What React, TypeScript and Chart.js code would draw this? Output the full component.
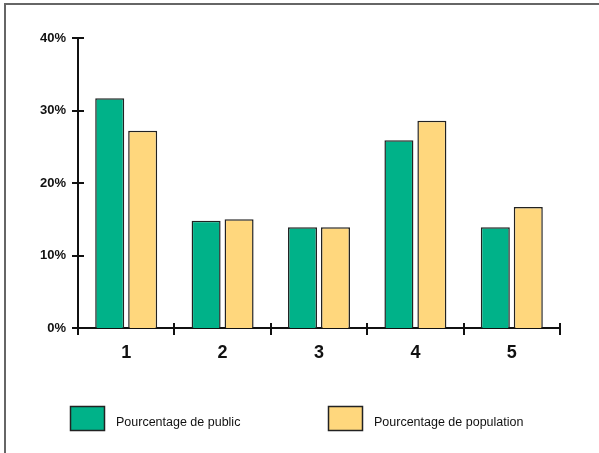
import React, { useEffect, useRef } from "react";
import { Chart, registerables } from "chart.js";

Chart.register(...registerables);

const categories = ["1", "2", "3", "4", "5"];
const publicShare = [31.7, 14.8, 13.9, 25.9, 13.9];
const populationShare = [27.2, 15.0, 13.9, 28.6, 16.7];
const yTickValues = [0, 10, 20, 30, 40];

const seriesNames = ["Pourcentage de public", "Pourcentage de population"];
const GREEN = "rgb(0,178,137)";
const YELLOW = "rgb(255,215,125)";

// Crossing tick marks on both axes
const axisTicks = {
  id: "axisTicks",
  afterDraw(chart: any) {
    const { ctx, chartArea } = chart;
    const y = chart.scales.y;
    const x = chart.scales.x;
    ctx.save();
    ctx.strokeStyle = "#111";
    ctx.lineWidth = 2;
    ctx.beginPath();
    for (const t of y.ticks) {
      const py = Math.round(y.getPixelForValue(t.value));
      ctx.moveTo(chartArea.left - 6, py);
      ctx.lineTo(chartArea.left + 6, py);
    }
    const n = x.ticks.length;
    const w = (chartArea.right - chartArea.left) / n;
    for (let i = 0; i <= n; i++) {
      const px = Math.round(chartArea.left + i * w);
      ctx.moveTo(px, chartArea.bottom - 5);
      ctx.lineTo(px, chartArea.bottom + 7);
    }
    ctx.stroke();
    ctx.restore();
  },
};

// Legend row under the plot
const bottomLegend = {
  id: "bottomLegend",
  afterDraw(chart: any) {
    const { ctx } = chart;
    const boxX = [70, 328];
    const top = 406;
    ctx.save();
    chart.data.datasets.forEach((ds: any, i: number) => {
      ctx.fillStyle = ds.backgroundColor;
      ctx.fillRect(boxX[i], top, 35, 25);
      ctx.strokeStyle = "#222";
      ctx.lineWidth = 1.5;
      ctx.strokeRect(boxX[i] + 0.5, top + 0.5, 34, 24);
      ctx.fillStyle = "#111";
      ctx.font = "12.5px 'Liberation Sans', Arial, sans-serif";
      ctx.textBaseline = "middle";
      ctx.textAlign = "left";
      ctx.fillText(ds.label, boxX[i] + 46, top + 17);
    });
    ctx.restore();
  },
};

export default function App() {
  const ref = useRef<HTMLCanvasElement>(null);

  useEffect(() => {
    if (!ref.current) return;
    const chart = new Chart(ref.current, {
      type: "bar",
      data: {
        labels: categories,
        datasets: [
          {
            label: seriesNames[0],
            data: publicShare,
            backgroundColor: GREEN,
            borderColor: "#222",
            borderWidth: 1.5,
          },
          {
            label: seriesNames[1],
            data: populationShare,
            backgroundColor: YELLOW,
            borderColor: "#222",
            borderWidth: 1.5,
          },
        ],
      },
      options: {
        responsive: false,
        animation: false,
        layout: { padding: { left: 0, right: 39, top: 38, bottom: 85 } },
        datasets: {
          bar: { categoryPercentage: 0.684, barPercentage: 0.88 },
        },
        plugins: {
          legend: { display: false },
          tooltip: { enabled: false },
        },
        scales: {
          x: {
            grid: { display: false, drawTicks: false },
            border: { display: true, color: "#111", width: 2 },
            ticks: {
              padding: 14,
              color: "#111",
              font: { family: "'Liberation Sans', Arial, sans-serif", size: 18, weight: "bold" },
            },
            afterFit(scale: any) {
              scale.height = 40;
            },
          },
          y: {
            min: 0,
            max: 40,
            afterBuildTicks(scale: any) {
              scale.ticks = yTickValues.map((v) => ({ value: v }));
            },
            grid: { display: false, drawTicks: false },
            border: { display: true, color: "#111", width: 2 },
            ticks: {
              padding: 12,
              color: "#111",
              font: { family: "'Liberation Sans', Arial, sans-serif", size: 13, weight: "bold" },
              callback: (v: any) => v + "%",
            },
            afterFit(scale: any) {
              scale.width = 78;
            },
          },
        },
      },
      plugins: [axisTicks, bottomLegend],
    });
    return () => chart.destroy();
  }, []);

  return (
    <div style={{ position: "absolute", left: 0, top: 0, width: 599, height: 453, background: "#fff", overflow: "hidden" }}>
      <canvas ref={ref} width={599} height={453} style={{ position: "absolute", left: 0, top: 0 }} />
      <div
        style={{
          position: "absolute",
          left: 4,
          top: 3,
          width: 700,
          height: 600,
          borderTop: "2px solid #666",
          borderLeft: "2px solid #666",
          pointerEvents: "none",
        }}
      />
    </div>
  );
}
